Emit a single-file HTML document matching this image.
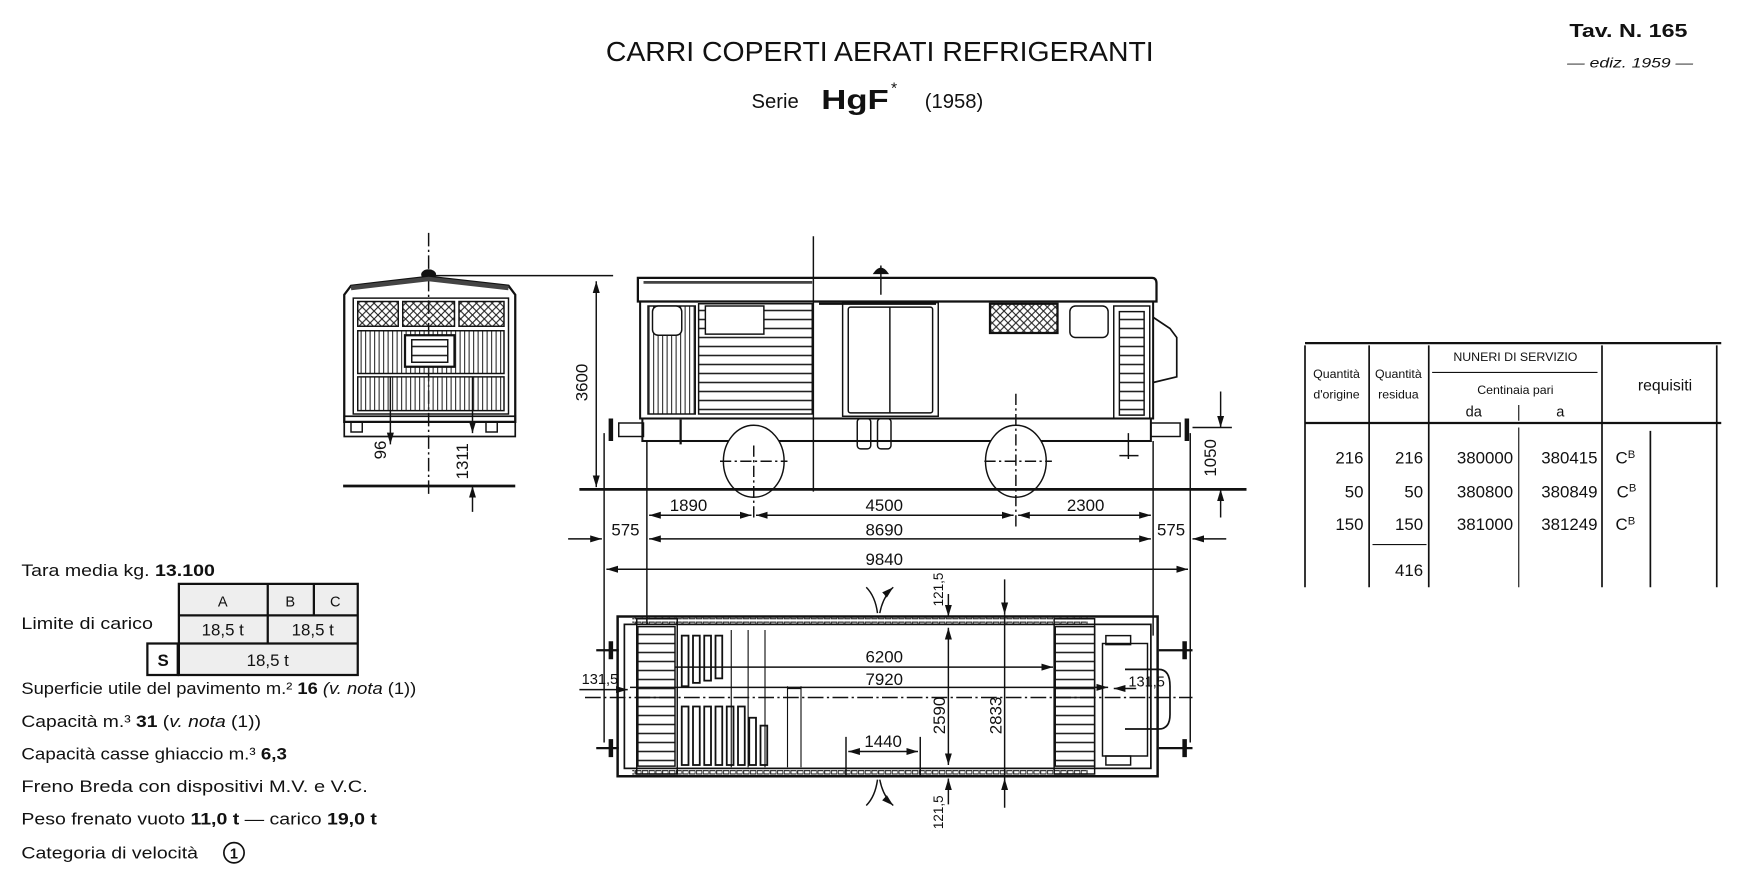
<!DOCTYPE html>
<html><head><meta charset="utf-8"><style>
html,body{margin:0;padding:0;background:#fff;}
svg{display:block;}
text{font-family:"Liberation Sans",sans-serif;fill:#111;}
</style></head><body>
<svg width="1755" height="891" viewBox="0 0 1560 792" xmlns="http://www.w3.org/2000/svg">
<defs>
<pattern id="lat" width="7" height="7" patternUnits="userSpaceOnUse"><path d="M0 0L7 7M7 0L0 7" stroke="#222" stroke-width="1"/></pattern>
<pattern id="vh" width="4" height="4" patternUnits="userSpaceOnUse"><path d="M1 0V4" stroke="#333" stroke-width="1"/></pattern>
<pattern id="hh" width="6" height="8" patternUnits="userSpaceOnUse"><path d="M0 4H6" stroke="#222" stroke-width="1.4"/></pattern>
<pattern id="hh2" width="6" height="6" patternUnits="userSpaceOnUse"><rect x="1" y="1" width="5" height="3" fill="none" stroke="#222" stroke-width="1"/></pattern>
<marker id="ar" viewBox="0 0 10 6" refX="10" refY="3" markerWidth="8" markerHeight="5" orient="auto-start-reverse"><path d="M0 0L10 3L0 6Z" fill="#111"/></marker>
</defs>

<!-- Titles -->
<text x="782" y="54" font-size="25" text-anchor="middle" textLength="487" lengthAdjust="spacingAndGlyphs">CARRI COPERTI AERATI REFRIGERANTI</text>
<text x="668" y="96" font-size="18">Serie</text>
<text x="730" y="97" font-size="25" font-weight="bold" textLength="60" lengthAdjust="spacingAndGlyphs">HgF</text>
<text x="792" y="83" font-size="14">*</text>
<text x="822" y="96" font-size="18">(1958)</text>
<text x="1395" y="33" font-size="16" font-weight="bold" textLength="105" lengthAdjust="spacingAndGlyphs">Tav. N. 165</text>
<text x="1393" y="60" font-size="12" font-style="italic" textLength="112" lengthAdjust="spacingAndGlyphs">— ediz. 1959 —</text>

<g stroke="#111" fill="none" stroke-width="1.3">
<!-- FRONT VIEW -->
<line x1="381" y1="207" x2="381" y2="440" stroke-dasharray="12,3,2,3"/>
<path d="M306 375V262L312 254L381 246L452 254L458 262V375Z" stroke-width="2"/>
<ellipse cx="381" cy="244" rx="6" ry="4" fill="#111"/>
<path d="M312 256L381 248L452 256" stroke-width="4" stroke="#444"/>
<rect x="314" y="265" width="138" height="103"/>
<rect x="318" y="268" width="36" height="22" fill="url(#lat)"/>
<rect x="358" y="268" width="46" height="22" fill="url(#lat)"/>
<rect x="408" y="268" width="40" height="22" fill="url(#lat)"/>
<rect x="318" y="294" width="130" height="38" fill="url(#vh)"/>
<rect x="318" y="335" width="130" height="30" fill="url(#vh)"/>
<rect x="360" y="298" width="44" height="28" fill="#fff" stroke-width="2"/>
<rect x="366" y="302" width="32" height="20" fill="url(#hh)"/>
<rect x="306" y="370" width="152" height="18" stroke-width="1.5"/>
<rect x="312" y="375" width="10" height="9"/><rect x="432" y="375" width="10" height="9"/>
<line x1="305" y1="432" x2="458" y2="432" stroke-width="2.5"/>
<line x1="347" y1="335" x2="347" y2="395" marker-end="url(#ar)"/>
<line x1="420" y1="335" x2="420" y2="385" marker-end="url(#ar)"/>
<line x1="420" y1="455" x2="420" y2="432" marker-end="url(#ar)"/>
<line x1="381" y1="245" x2="545" y2="245"/>

<!-- SIDE VIEW -->
<line x1="723" y1="210" x2="723" y2="437"/>
<line x1="783" y1="236" x2="783" y2="262"/>
<path d="M777 243Q783 234 789 243Z" fill="#111"/>
<path d="M567 247H1024Q1028 247 1028 252V268H567Z" stroke-width="2"/>
<line x1="572" y1="251" x2="722" y2="251" stroke-width="2.5" stroke="#444"/>
<rect x="569" y="268" width="456" height="104" stroke-width="1.8"/>
<rect x="576" y="272" width="42" height="96" fill="url(#vh)"/>
<rect x="580" y="272" width="26" height="26" rx="5" fill="#fff"/>
<rect x="621" y="270" width="101" height="98" fill="url(#hh)"/>
<rect x="627" y="272" width="52" height="25" fill="#fff"/>
<rect x="749" y="269" width="85" height="101"/>
<rect x="754" y="273" width="75" height="94" rx="2"/>
<line x1="791" y1="273" x2="791" y2="367"/>
<line x1="728" y1="270" x2="832" y2="270" stroke-width="2"/>
<rect x="880" y="270" width="60" height="26" fill="url(#lat)" stroke-width="2"/>
<rect x="951" y="272" width="34" height="28" rx="5"/>
<rect x="990" y="272" width="32" height="100"/>
<rect x="995" y="277" width="22" height="92" fill="url(#hh)"/>
<path d="M1025 282L1040 292L1046 300V335L1025 340" stroke-width="1.5"/>
<rect x="571" y="372" width="452" height="20" stroke-width="1.8"/>
<rect x="762" y="372" width="12" height="27" rx="3"/><rect x="780" y="372" width="12" height="27" rx="3"/>
<rect x="550" y="376" width="22" height="12"/><rect x="1023" y="376" width="26" height="12"/>
<path d="M543 372V392M1055 372V392" stroke-width="4"/>
<line x1="605" y1="373" x2="605" y2="395" stroke-width="2"/>
<ellipse cx="670" cy="410" rx="27" ry="32" fill="#fff"/>
<ellipse cx="903" cy="410" rx="27" ry="32" fill="#fff"/>
<line x1="640" y1="410" x2="700" y2="410" stroke-dasharray="10,3,2,3"/>
<line x1="875" y1="410" x2="935" y2="410" stroke-dasharray="10,3,2,3"/>
<line x1="670" y1="396" x2="670" y2="463" stroke-dasharray="10,3,2,3"/>
<line x1="903" y1="350" x2="903" y2="470" stroke-dasharray="10,3,2,3"/>
<line x1="1003" y1="385" x2="1003" y2="408"/><line x1="995" y1="405" x2="1012" y2="405"/>
<line x1="515" y1="435" x2="1108" y2="435" stroke-width="2.5"/>
<line x1="530" y1="250" x2="530" y2="433" marker-start="url(#ar)" marker-end="url(#ar)"/>
<line x1="1060" y1="380" x2="1095" y2="380"/>
<line x1="1085" y1="348" x2="1085" y2="380" marker-end="url(#ar)"/>
<line x1="1085" y1="460" x2="1085" y2="435" marker-end="url(#ar)"/>
<line x1="537" y1="385" x2="537" y2="660"/>
<line x1="575" y1="392" x2="575" y2="555"/>
<line x1="1025" y1="392" x2="1025" y2="565"/>
<line x1="1058" y1="385" x2="1058" y2="660"/>
<line x1="577" y1="458" x2="668" y2="458" marker-start="url(#ar)" marker-end="url(#ar)"/>
<line x1="672" y1="458" x2="901" y2="458" marker-start="url(#ar)" marker-end="url(#ar)"/>
<line x1="905" y1="458" x2="1023" y2="458" marker-start="url(#ar)" marker-end="url(#ar)"/>
<line x1="505" y1="479" x2="535" y2="479" marker-end="url(#ar)"/>
<line x1="577" y1="479" x2="1023" y2="479" marker-start="url(#ar)" marker-end="url(#ar)"/>
<line x1="1090" y1="479" x2="1060" y2="479" marker-end="url(#ar)"/>
<line x1="539" y1="506" x2="1056" y2="506" marker-start="url(#ar)" marker-end="url(#ar)"/>

<!-- PLAN VIEW -->
<rect x="549" y="548" width="480" height="142" stroke-width="2.2"/>
<rect x="555" y="555" width="468" height="128" stroke-width="1.5"/>
<rect x="562" y="549" width="405" height="6" fill="url(#hh2)" stroke-width="0"/>
<rect x="562" y="683" width="405" height="6" fill="url(#hh2)" stroke-width="0"/>
<rect x="567" y="557" width="33" height="124" fill="url(#hh)"/>
<rect x="938" y="557" width="35" height="124" fill="url(#hh)"/>
<rect x="937" y="550" width="36" height="138"/>
<rect x="566" y="550" width="36" height="138"/>
<g stroke-width="1.6">
<rect x="606" y="565" width="6" height="45"/><rect x="616" y="565" width="6" height="42"/><rect x="626" y="565" width="6" height="40"/><rect x="636" y="565" width="6" height="38"/>
<rect x="606" y="628" width="6" height="52"/><rect x="616" y="628" width="6" height="52"/><rect x="626" y="628" width="6" height="52"/><rect x="636" y="628" width="6" height="52"/><rect x="646" y="628" width="6" height="52"/><rect x="656" y="628" width="6" height="52"/><rect x="666" y="638" width="6" height="42"/><rect x="676" y="645" width="6" height="35"/>
</g>
<path d="M650 560V682M665 560V682M680 560V682M700 610V682M712 610V682M700 612L712 612" stroke-width="1"/>
<line x1="520" y1="620" x2="1060" y2="620" stroke-dasharray="14,3,2,3"/>
<rect x="980" y="572" width="40" height="100"/>
<path d="M1000 595H1030Q1040 595 1040 610V635Q1040 648 1030 648H1000" stroke-width="1.5"/>
<rect x="983" y="565" width="22" height="8"/><rect x="983" y="672" width="22" height="8"/>
<g stroke-width="2">
<path d="M530 578H550M1030 578H1060M530 665H550M1030 665H1060"/>
<path d="M543 570V586M1053 570V586M543 657V673M1053 657V673" stroke-width="4"/>
</g>
<line x1="600" y1="593" x2="936" y2="593" marker-end="url(#ar)"/>
<line x1="560" y1="611" x2="985" y2="611" marker-end="url(#ar)"/>
<line x1="515" y1="613" x2="558" y2="613" marker-end="url(#ar)"/>
<line x1="1010" y1="612" x2="990" y2="612" marker-end="url(#ar)"/>
<line x1="843" y1="528" x2="843" y2="548" marker-end="url(#ar)"/>
<line x1="843" y1="558" x2="843" y2="680" marker-start="url(#ar)" marker-end="url(#ar)"/>
<line x1="843" y1="715" x2="843" y2="692" marker-end="url(#ar)"/>
<line x1="893" y1="515" x2="893" y2="546" marker-end="url(#ar)"/>
<line x1="893" y1="546" x2="893" y2="692"/>
<line x1="893" y1="718" x2="893" y2="692" marker-end="url(#ar)"/>
<line x1="752" y1="655" x2="752" y2="690"/><line x1="818" y1="655" x2="818" y2="690"/>
<line x1="754" y1="668" x2="816" y2="668" marker-start="url(#ar)" marker-end="url(#ar)"/>
<path d="M780 545Q778 530 770 522M782 545Q785 530 794 522" marker-end="url(#ar)"/>
<path d="M780 693Q778 708 770 716M782 693Q785 708 794 716" marker-end="url(#ar)"/>
</g>

<g font-size="15">
<text x="612" y="454" text-anchor="middle">1890</text>
<text x="786" y="454" text-anchor="middle">4500</text>
<text x="965" y="454" text-anchor="middle">2300</text>
<text x="556" y="476" text-anchor="middle">575</text>
<text x="786" y="476" text-anchor="middle">8690</text>
<text x="1041" y="476" text-anchor="middle">575</text>
<text x="786" y="502" text-anchor="middle">9840</text>
<text x="786" y="589" text-anchor="middle">6200</text>
<text x="786" y="609" text-anchor="middle">7920</text>
<text x="785" y="664" text-anchor="middle">1440</text>
<text x="517" y="608" font-size="13">131,5</text>
<text x="1003" y="610" font-size="13">131,5</text>
<text transform="translate(522,340) rotate(-90)" text-anchor="middle">3600</text>
<text transform="translate(1081,407) rotate(-90)" text-anchor="middle">1050</text>
<text transform="translate(343,400) rotate(-90)" text-anchor="middle">96</text>
<text transform="translate(416,410) rotate(-90)" text-anchor="middle">1311</text>
<text transform="translate(840,636) rotate(-90)" text-anchor="middle">2590</text>
<text transform="translate(890,636) rotate(-90)" text-anchor="middle">2833</text>
<text transform="translate(838,524) rotate(-90)" text-anchor="middle" font-size="12">121,5</text>
<text transform="translate(838,722) rotate(-90)" text-anchor="middle" font-size="12">121,5</text>
</g>

<g font-size="15">
<text x="19" y="512" textLength="172" lengthAdjust="spacingAndGlyphs">Tara media kg. <tspan font-weight="bold">13.100</tspan></text>
<text x="19" y="559" textLength="117" lengthAdjust="spacingAndGlyphs">Limite di carico</text>
<text x="19" y="617" textLength="351" lengthAdjust="spacingAndGlyphs">Superficie utile del pavimento m.² <tspan font-weight="bold">16</tspan> <tspan font-style="italic">(v. nota</tspan> (1))</text>
<text x="19" y="646" textLength="213" lengthAdjust="spacingAndGlyphs">Capacità m.³ <tspan font-weight="bold">31</tspan> (<tspan font-style="italic">v. nota</tspan> (1))</text>
<text x="19" y="675" textLength="236" lengthAdjust="spacingAndGlyphs">Capacità casse ghiaccio m.³ <tspan font-weight="bold">6,3</tspan></text>
<text x="19" y="704" textLength="308" lengthAdjust="spacingAndGlyphs">Freno Breda con dispositivi M.V. e V.C.</text>
<text x="19" y="733" textLength="316" lengthAdjust="spacingAndGlyphs">Peso frenato vuoto <tspan font-weight="bold">11,0 t</tspan> — carico <tspan font-weight="bold">19,0 t</tspan></text>
<text x="19" y="763" textLength="157" lengthAdjust="spacingAndGlyphs">Categoria di velocità</text>
<circle cx="208" cy="758" r="9" fill="none" stroke="#111" stroke-width="1.5"/>
<text x="208" y="763" font-size="13" text-anchor="middle" font-weight="bold">1</text>
</g>
<g stroke="#111" fill="#eee" stroke-width="2">
<rect x="159" y="519" width="159" height="81"/>
<rect x="131" y="572" width="27" height="28" fill="#fff"/>
<path d="M159 547H318M159 572H318M238 519V572M279 519V547" fill="none"/>
</g>
<g font-size="13" text-anchor="middle">
<text x="198" y="539">A</text><text x="258" y="539">B</text><text x="298" y="539">C</text>
<text x="198" y="565" font-size="15">18,5 t</text><text x="278" y="565" font-size="15">18,5 t</text>
<text x="238" y="592" font-size="15">18,5 t</text><text x="145" y="592" font-size="15" font-weight="bold">S</text>
</g>

<g stroke="#111" stroke-width="1.5" fill="none">
<line x1="1160" y1="305" x2="1530" y2="305" stroke-width="2"/>
<line x1="1160" y1="376" x2="1530" y2="376" stroke-width="2"/>
<line x1="1160" y1="307" x2="1160" y2="522"/>
<line x1="1217" y1="307" x2="1217" y2="522"/>
<line x1="1270" y1="307" x2="1270" y2="522"/>
<line x1="1424" y1="307" x2="1424" y2="522"/>
<line x1="1526" y1="307" x2="1526" y2="522"/>
<line x1="1273" y1="331" x2="1420" y2="331" stroke-width="1"/>
<line x1="1350" y1="360" x2="1350" y2="374" stroke-width="1"/>
<line x1="1350" y1="380" x2="1350" y2="522" stroke-width="1"/>
<line x1="1467" y1="383" x2="1467" y2="522"/>
<line x1="1220" y1="484" x2="1268" y2="484" stroke-width="1"/>
</g>
<g font-size="11">
<text x="1188" y="336" text-anchor="middle">Quantità</text>
<text x="1188" y="354" text-anchor="middle">d'origine</text>
<text x="1243" y="336" text-anchor="middle">Quantità</text>
<text x="1243" y="354" text-anchor="middle">residua</text>
<text x="1347" y="321" text-anchor="middle">NUNERI DI SERVIZIO</text>
<text x="1347" y="350" text-anchor="middle">Centinaia pari</text>
<text x="1310" y="370" text-anchor="middle" font-size="13">da</text>
<text x="1387" y="370" text-anchor="middle" font-size="13">a</text>
<text x="1480" y="347" text-anchor="middle" font-size="14">requisiti</text>
</g>
<g font-size="15">
<g text-anchor="end">
<text x="1212" y="412">216</text><text x="1265" y="412">216</text><text x="1345" y="412">380000</text><text x="1420" y="412">380415</text>
<text x="1212" y="442">50</text><text x="1265" y="442">50</text><text x="1345" y="442">380800</text><text x="1420" y="442">380849</text>
<text x="1212" y="471">150</text><text x="1265" y="471">150</text><text x="1345" y="471">381000</text><text x="1420" y="471">381249</text>
<text x="1265" y="512">416</text>
</g>
<text x="1436" y="412">C<tspan font-size="10" dy="-5">B</tspan></text>
<text x="1437" y="442">C<tspan font-size="10" dy="-5">B</tspan></text>
<text x="1436" y="471">C<tspan font-size="10" dy="-5">B</tspan></text>
</g>
</svg>
</body></html>
